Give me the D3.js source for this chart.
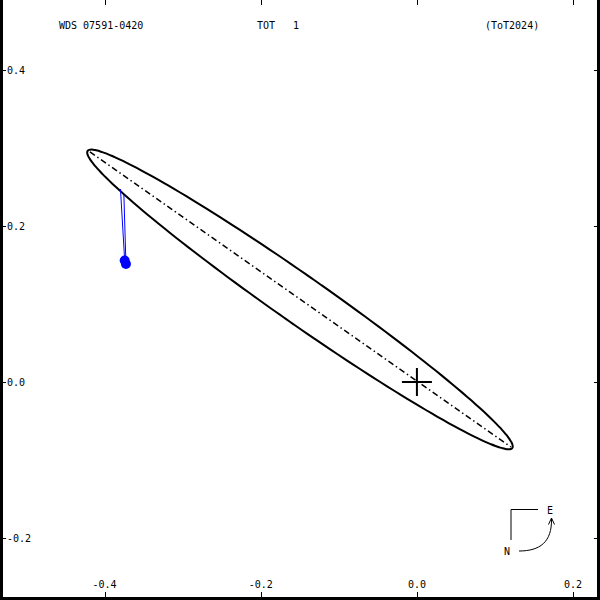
<!DOCTYPE html>
<html>
<head>
<meta charset="utf-8">
<script src="https://cdn.jsdelivr.net/npm/d3@7"></script>
<style>
  html, body { margin: 0; padding: 0; background: #ffffff; }
  svg { display: block; }
</style>
</head>
<body>
<div id="chart"></div>
<script>
// header texts
const titleLeft = "WDS 07591-0420";
const titleMid = "TOT   1";
const titleRight = "(ToT2024)";

// axis ticks (arcsec)
const xTicks = [-0.4, -0.2, 0.0, 0.2];
const yTicks = [0.4, 0.2, 0.0, -0.2];

// visible window
const xDomain = [-0.534, 0.2345];
const yDomain = [0.4897, -0.2795];

// apparent orbit: centre, semi-axes, tilt (deg)
const orbitCenter = [-0.1498, 0.1058];
const orbitAxes = [0.332, 0.0308];
const orbitTilt = 145;

// line of nodes end points
const nodeLine = [[-0.4188, 0.2949], [0.1204, -0.0833]];

// measures and their predicted places on the orbit
const observed = [[-0.3743, 0.1558], [-0.3727, 0.1513]];
const predicted = [[-0.3797, 0.2474], [-0.3753, 0.2397]];

const W = 600, H = 600;

const x = d3.scaleLinear().domain(xDomain).range([0, W]);
const y = d3.scaleLinear().domain(yDomain).range([0, H]);

const svg = d3.select("#chart").append("svg")
  .attr("width", W)
  .attr("height", H)
  .style("font-family", "'DejaVu Sans Mono', monospace")
  .style("font-size", "10px");

svg.append("rect")
  .attr("width", W)
  .attr("height", H)
  .attr("fill", "#ffffff");

// frame (top edge falls outside the picture)
svg.append("path")
  .attr("d", `M1.5,0 V598.5 H598.5 V0`)
  .attr("fill", "none")
  .attr("stroke", "#000")
  .attr("stroke-width", 3);

// ticks
xTicks.forEach(t => {
  const px = Math.round(x(t)) + 0.5;
  svg.append("line").attr("x1", px).attr("x2", px).attr("y1", 0).attr("y2", 5)
    .attr("stroke", "#000").attr("stroke-width", 1);
  svg.append("line").attr("x1", px).attr("x2", px).attr("y1", 592).attr("y2", 597)
    .attr("stroke", "#000").attr("stroke-width", 1);
  svg.append("text")
    .attr("x", x(t))
    .attr("y", 587.5)
    .attr("text-anchor", "middle")
    .attr("fill", "#000")
    .text(d3.format(".1f")(t).replace("−", "-"));
});

yTicks.forEach(t => {
  const py = Math.round(y(t)) + 0.5;
  svg.append("line").attr("x1", 3).attr("x2", 6).attr("y1", py).attr("y2", py)
    .attr("stroke", "#000").attr("stroke-width", 1);
  svg.append("line").attr("x1", 594).attr("x2", 597).attr("y1", py).attr("y2", py)
    .attr("stroke", "#000").attr("stroke-width", 1);
  svg.append("text")
    .attr("x", 7)
    .attr("y", y(t) + 3.8)
    .attr("fill", "#000")
    .text(d3.format(".1f")(t).replace("−", "-"));
});

// header
svg.append("text").attr("x", 59).attr("y", 29).attr("fill", "#000")
  .style("white-space", "pre").text(titleLeft);
svg.append("text").attr("x", 257).attr("y", 29).attr("fill", "#000")
  .style("white-space", "pre").text(titleMid);
svg.append("text").attr("x", 485).attr("y", 29).attr("fill", "#000")
  .style("white-space", "pre").text(titleRight);

// orbit ellipse
const tilt = orbitTilt * Math.PI / 180;
const orbitPts = d3.range(0, 361, 2).map(deg => {
  const e = deg * Math.PI / 180;
  const u = orbitAxes[0] * Math.cos(e), v = orbitAxes[1] * Math.sin(e);
  return [
    orbitCenter[0] + u * Math.cos(tilt) - v * Math.sin(tilt),
    orbitCenter[1] + u * Math.sin(tilt) + v * Math.cos(tilt)
  ];
});

const line = d3.line().x(d => x(d[0])).y(d => y(d[1]));

svg.append("path")
  .attr("d", line.curve(d3.curveCardinalClosed)(orbitPts))
  .attr("fill", "none")
  .attr("stroke", "#000")
  .attr("stroke-width", 2);

// line of nodes
svg.append("path")
  .attr("d", d3.line().x(d => x(d[0])).y(d => y(d[1]))(nodeLine))
  .attr("fill", "none")
  .attr("stroke", "#000")
  .attr("stroke-width", 1.5)
  .attr("stroke-dasharray", "6,3,1.5,3");

// residual lines
observed.forEach((o, i) => {
  svg.append("line")
    .attr("x1", x(predicted[i][0])).attr("y1", y(predicted[i][1]))
    .attr("x2", x(o[0])).attr("y2", y(o[1]))
    .attr("stroke", "#0000ff")
    .attr("stroke-width", 1);
});

svg.selectAll("circle.obs")
  .data(observed)
  .join("circle")
  .attr("class", "obs")
  .attr("cx", d => x(d[0]))
  .attr("cy", d => y(d[1]))
  .attr("r", 5)
  .attr("fill", "#0000ff");

// primary
const cx0 = x(0), cy0 = y(0);
svg.append("path")
  .attr("d", `M${cx0 - 15},${cy0} H${cx0 + 15} M${cx0},${cy0 - 14} V${cy0 + 14}`)
  .attr("stroke", "#000")
  .attr("stroke-width", 2);

// orientation marker
const compass = svg.append("g");
compass.append("path")
  .attr("d", "M511,540 V509.5 H538")
  .attr("fill", "none")
  .attr("stroke", "#000")
  .attr("stroke-width", 1);
compass.append("path")
  .attr("d", "M519,551 C540,551 552,542 551.5,519")
  .attr("fill", "none")
  .attr("stroke", "#000")
  .attr("stroke-width", 1);
compass.append("path")
  .attr("d", "M548.5,524.5 L551.5,518 L554.5,524.5")
  .attr("fill", "none")
  .attr("stroke", "#000")
  .attr("stroke-width", 1);
compass.append("text").attr("x", 550).attr("y", 514).attr("text-anchor", "middle")
  .attr("fill", "#000").text("E");
compass.append("text").attr("x", 507).attr("y", 555).attr("text-anchor", "middle")
  .attr("fill", "#000").text("N");
</script>
</body>
</html>
